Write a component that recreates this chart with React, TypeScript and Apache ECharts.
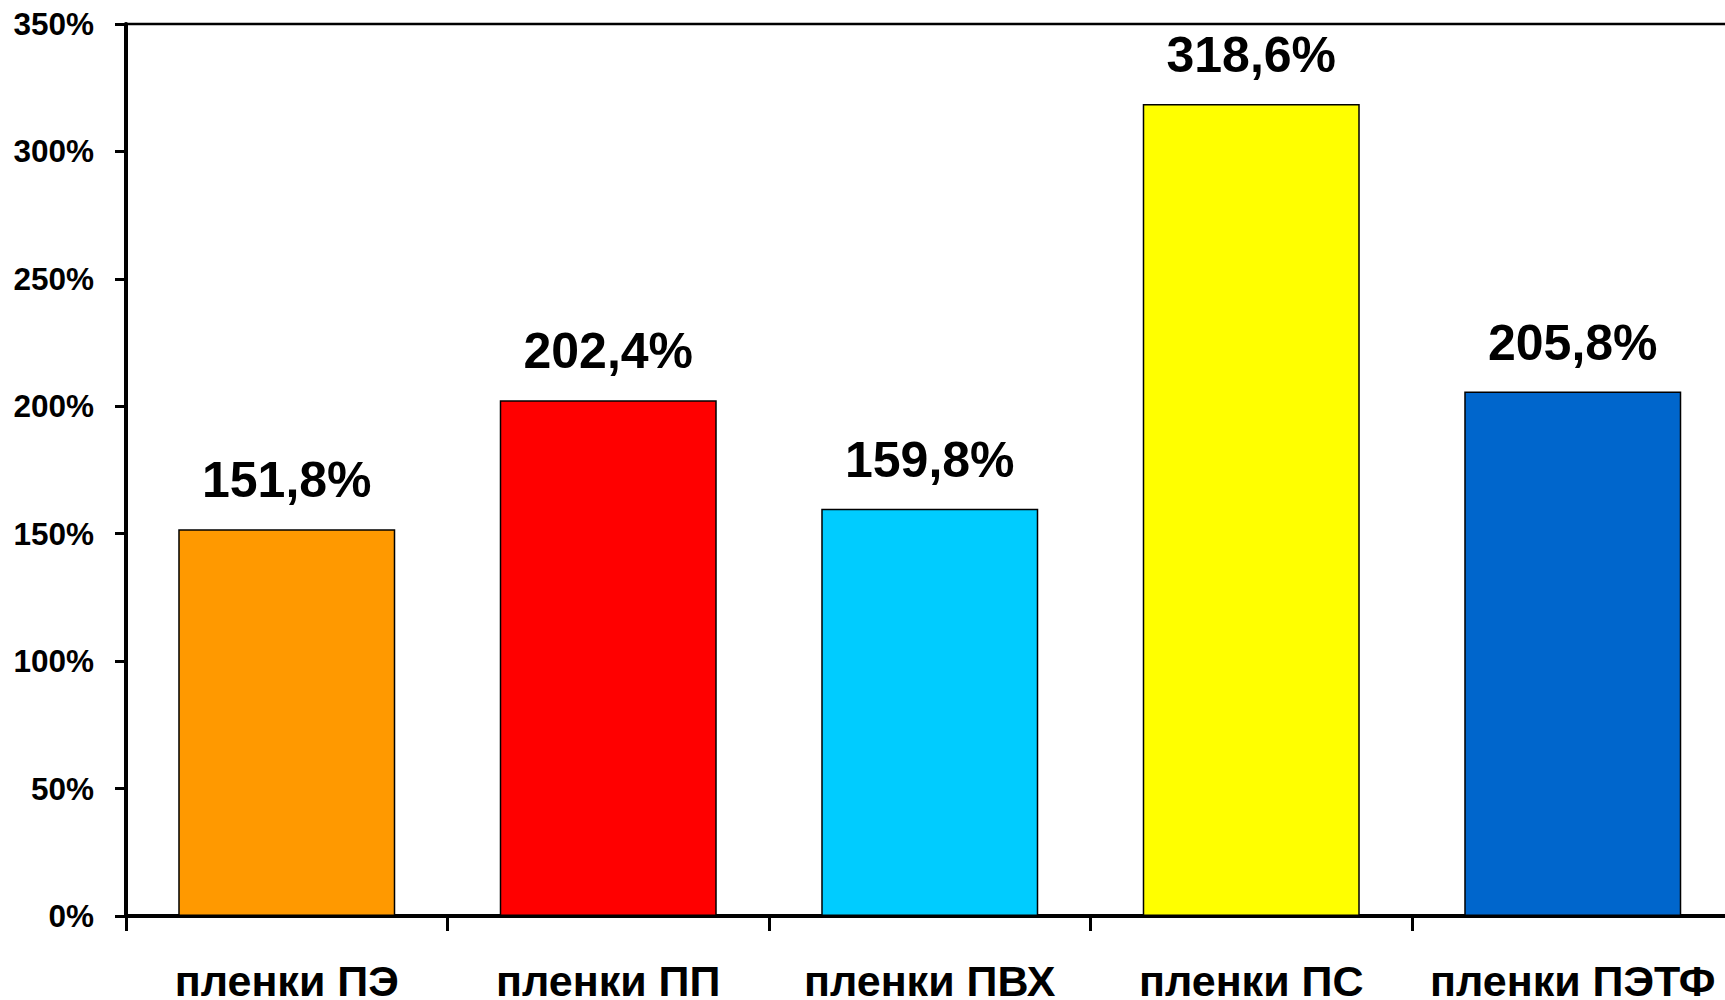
import React, { useEffect, useRef } from "react";
import * as echarts from "echarts";

const categories = ["пленки ПЭ", "пленки ПП", "пленки ПВХ", "пленки ПС", "пленки ПЭТФ"];
const values = [151.8, 202.4, 159.8, 318.6, 205.8];
const barColors = ["#FF9900", "#FF0000", "#00CCFF", "#FFFF00", "#0066CC"];
const yTicks = { min: 0, max: 350, interval: 50 };

const FONT = "Arial, 'Liberation Sans', sans-serif";

export default function App() {
  const ref = useRef<HTMLDivElement>(null);
  useEffect(() => {
    if (!ref.current) return;
    const chart = echarts.init(ref.current, undefined, { renderer: "svg" });
    chart.setOption({
      animation: false,
      backgroundColor: "#ffffff",
      grid: {
        left: 126,
        top: 24,
        width: 1607.5,
        bottom: 84,
        show: true,
        borderColor: "#000",
        borderWidth: 2.5,
        backgroundColor: "transparent",
        outerBoundsMode: "none",
        containLabel: false,
      },
      xAxis: {
        type: "category",
        data: categories,
        axisLine: { lineStyle: { color: "#000", width: 4 } },
        axisTick: { show: true, length: 15, lineStyle: { color: "#000", width: 3 } },
        axisLabel: {
          color: "#000",
          fontSize: 43,
          lineHeight: 34,
          fontWeight: "bold",
          fontFamily: FONT,
          margin: 47.5,
          interval: 0,
        },
      },
      yAxis: {
        type: "value",
        min: yTicks.min,
        max: yTicks.max,
        interval: yTicks.interval,
        splitLine: { show: false },
        axisLine: { show: true, lineStyle: { color: "#000", width: 4 } },
        axisTick: { show: true, length: 11, lineStyle: { color: "#000", width: 3 } },
        axisLabel: {
          color: "#000",
          fontSize: 31.5,
          fontWeight: "bold",
          fontFamily: FONT,
          margin: 32,
          formatter: (v: number) => v + "%",
        },
      },
      series: [
        {
          type: "bar",
          barWidth: "67.5%",
          data: values.map((v, i) => ({
            value: v,
            itemStyle: { color: barColors[i], borderColor: "#000", borderWidth: 1.5 },
          })),
          label: {
            show: true,
            position: "top",
            distance: 24,
            color: "#000",
            fontSize: 50,
            fontWeight: "bold",
            fontFamily: FONT,
            formatter: (p: any) => p.value.toFixed(1).replace(".", ",") + "%",
          },
        },
      ],
    });
    return () => chart.dispose();
  }, []);
  return (
    <div
      style={{
        position: "fixed",
        left: 0,
        top: 0,
        width: 1725,
        height: 1000,
        overflow: "hidden",
        background: "#fff",
      }}
    >
      <div ref={ref} style={{ width: 1745, height: 1000 }} />
    </div>
  );
}
